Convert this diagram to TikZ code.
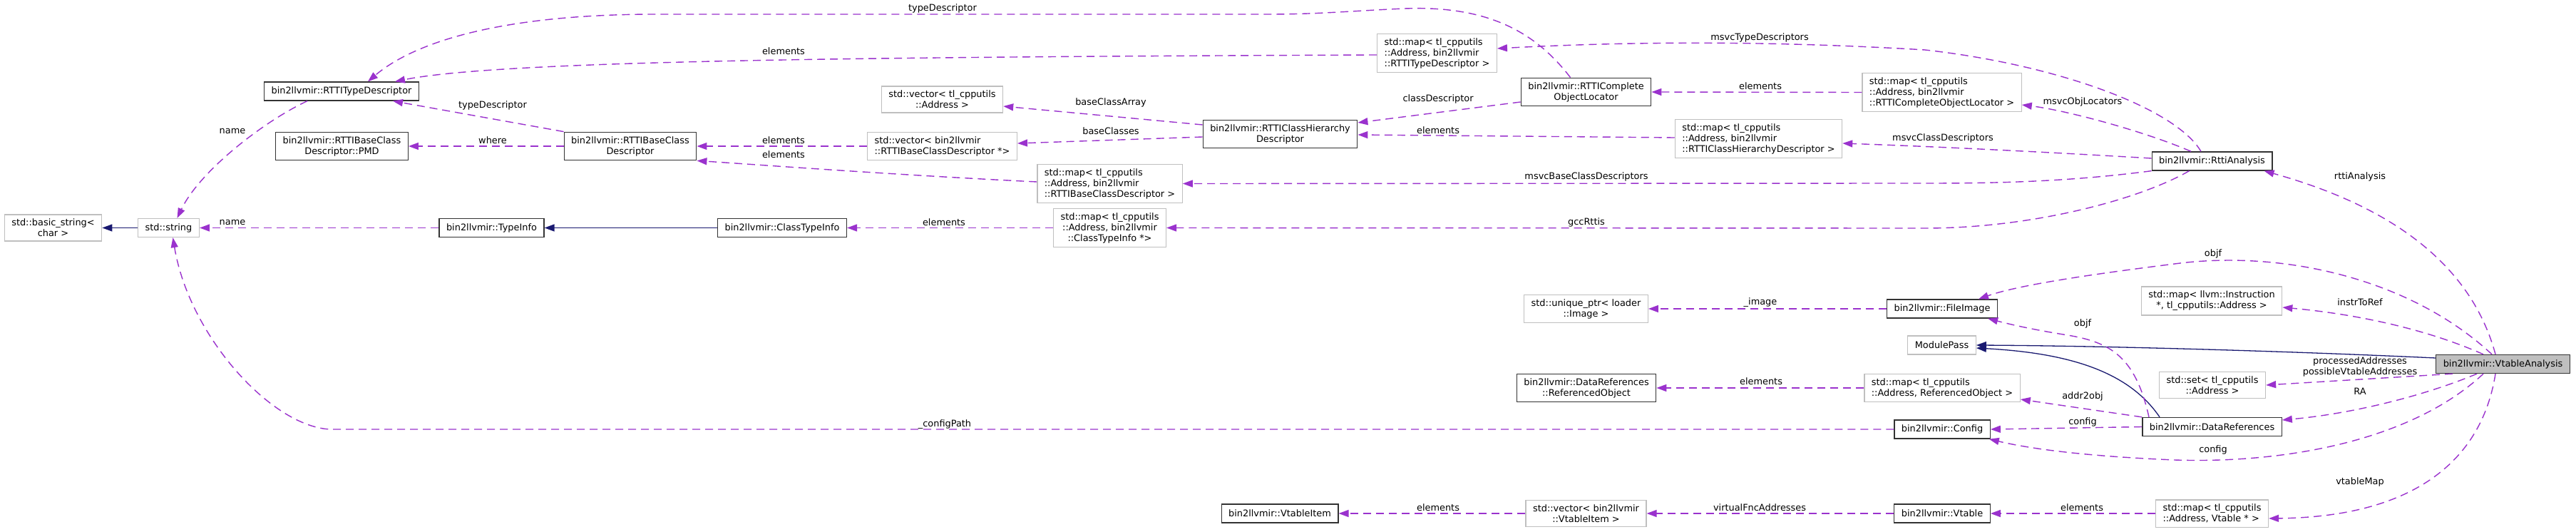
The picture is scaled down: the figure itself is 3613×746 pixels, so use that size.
\documentclass[tikz,border=0pt]{standalone}
\usepackage{fontspec}
\setmainfont{DejaVu Sans}
\usetikzlibrary{arrows.meta}
\usepackage{xcolor}
\definecolor{member}{HTML}{9A32CD}
\definecolor{inherit}{HTML}{191970}
\definecolor{extern}{HTML}{BFBFBF}
\definecolor{focus}{HTML}{BFBFBF}

\begin{document}
\begin{tikzpicture}[x=1pt,y=-1pt,font=\fontsize{12.9}{15}\selectfont,
  cls/.style={draw=black!80,line width=1.3pt,fill=white,align=center,
    inner xsep=10pt,inner ysep=6pt,minimum height=26pt},
  ext/.style={cls,draw=extern},
  cur/.style={cls,fill=focus},
  uses/.style={member,line width=1.4pt,dash pattern=on 11pt off 7pt,
    -{Triangle[length=14pt,width=10pt]}},
  isa/.style={inherit,line width=1.3pt,-{Triangle[length=14pt,width=10pt]}},
  lbl/.style={inner sep=0pt,align=center}]
  \useasboundingbox (0,0) rectangle (3613,746);

  % RTTI classes
  \node[cls] (rttitype) at (479,128) {bin2llvmir::RTTITypeDescriptor};
  \node[cls] (pmd) at (479.5,205) {bin2llvmir::RTTIBaseClass\\Descriptor::PMD};
  \node[ext] (basicstr) at (74.5,319.5) {std::basic\_string<\\char >};
  \node[ext] (stdstr) at (236.5,319.5) {std::string};
  \node[cls] (typeinfo) at (689.5,319.5) {bin2llvmir::TypeInfo};
  \node[cls] (baseclass) at (884,205) {bin2llvmir::RTTIBaseClass\\Descriptor};
  \node[cls] (classtype) at (1097,319.5) {bin2llvmir::ClassTypeInfo};
  \node[ext] (vecaddr) at (1321.5,139.5) {std::vector< tl\_cpputils\\::Address >};
  \node[ext,align=left] (vecbase) at (1321.5,205) {std::vector< bin2llvmir\\::RTTIBaseClassDescriptor *>};
  \node[ext,align=left] (mapbase) at (1556.5,257.5) {std::map< tl\_cpputils\\::Address, bin2llvmir\\::RTTIBaseClassDescriptor >};
  \node[ext] (mapcti) at (1556.5,319.5) {std::map< tl\_cpputils\\::Address, bin2llvmir\\::ClassTypeInfo *>};
  \node[cls] (chd) at (1795.5,188) {bin2llvmir::RTTIClassHierarchy\\Descriptor};
  \node[ext,align=left] (maptype) at (2015.5,74.5) {std::map< tl\_cpputils\\::Address, bin2llvmir\\::RTTITypeDescriptor >};
  \node[cls] (col) at (2224.5,129) {bin2llvmir::RTTIComplete\\ObjectLocator};
  \node[ext,align=left] (mapcol) at (2723.5,129.5) {std::map< tl\_cpputils\\::Address, bin2llvmir\\::RTTICompleteObjectLocator >};
  \node[ext,align=left] (mapchd) at (2466.5,194.5) {std::map< tl\_cpputils\\::Address, bin2llvmir\\::RTTIClassHierarchyDescriptor >};
  \node[cls] (rtti) at (3102.5,226) {bin2llvmir::RttiAnalysis};

  % vtable analysis side
  \node[ext] (uptr) at (2224.5,433) {std::unique\_ptr< loader\\::Image >};
  \node[cls] (fileimg) at (2724,433) {bin2llvmir::FileImage};
  \node[ext] (modpass) at (2723.5,484) {ModulePass};
  \node[cls] (refobj) at (2225,544) {bin2llvmir::DataReferences\\::ReferencedObject};
  \node[ext,align=left] (mapref) at (2724,544) {std::map< tl\_cpputils\\::Address, ReferencedObject >};
  \node[cls] (config) at (2724,602) {bin2llvmir::Config};
  \node[cls] (dataref) at (3102.5,598.5) {bin2llvmir::DataReferences};
  \node[ext] (setaddr) at (3103,540) {std::set< tl\_cpputils\\::Address >};
  \node[ext] (mapinstr) at (3102,422) {std::map< llvm::Instruction\\{}*, tl\_cpputils::Address >};
  \node[cur] (vta) at (3510.5,510.5) {bin2llvmir::VtableAnalysis};
  \node[ext,align=left] (mapvt) at (3102.5,720) {std::map< tl\_cpputils\\::Address, Vtable * >};
  \node[cls] (vtable) at (2724,720) {bin2llvmir::Vtable};
  \node[ext] (vecitem) at (2224.5,720) {std::vector< bin2llvmir\\::VtableItem >};
  \node[cls] (vtitem) at (1795,720) {bin2llvmir::VtableItem};

  % inheritance
  \draw[isa] (stdstr.west) -- (basicstr.east);
  \draw[isa] (classtype.west) -- (typeinfo.east);
  \draw[isa] ([yshift=8.5pt]vta.west) .. controls (3200,492) and (2950,485) .. (modpass.east);
  \draw[isa] ([xshift=-73.5pt]dataref.north) .. controls (2985,520) and (2900,495) .. ([yshift=-4pt]modpass.east);

  % members, RTTI part
  \draw[uses] ([xshift=-22pt]col.north) .. controls (2150,40) and (2080,8) .. (1970,12)
    .. controls (1900,15) and (1850,20) .. (1780,20) -- (920,20)
    .. controls (700,20) and (580,60) .. ([xshift=37pt]rttitype.north);
  \draw[uses] ([yshift=-2.5pt]maptype.west) .. controls (1200,80) and (700,85) .. ([xshift=75pt]rttitype.north);
  \draw[uses] (baseclass.north west) -- ([xshift=72pt]rttitype.south);
  \draw[uses] (baseclass.west) -- (pmd.east);
  \draw[uses] ([xshift=-48pt]rttitype.south) .. controls (370,170) and (280,240) .. ([xshift=12pt]stdstr.north);
  \draw[uses] (typeinfo.west) -- (stdstr.east);
  \draw[uses] (mapcti.west) -- (classtype.east);
  \draw[uses] ([xshift=-32pt]rtti.south) .. controls (3000,280) and (2850,320) .. (2700,320) -- (mapcti.east);
  \draw[uses] (rtti.south west) .. controls (2900,255) and (2800,257) .. (2700,257) -- (mapbase.east);
  \draw[uses] ([yshift=2.5pt]mapbase.west) .. controls (1250,245) and (1050,230) .. (baseclass.south east);
  \draw[uses] (vecbase.west) -- (baseclass.east);
  \draw[uses] ([yshift=-4pt]chd.west) -- ([yshift=4pt]vecbase.east);
  \draw[uses] ([yshift=13pt]chd.west) -- ([yshift=-9.5pt]vecaddr.east);
  \draw[uses] ([yshift=-14pt]col.west) -- ([yshift=16pt]chd.east);
  \draw[uses] ([yshift=1.5pt]mapchd.west) -- ([yshift=-1pt]chd.east);
  \draw[uses] (mapcol.west) -- (col.east);
  \draw[uses] ([xshift=-29.5pt]rtti.north) .. controls (3010,185) and (2900,155) .. ([yshift=-17.5pt]mapcol.east);
  \draw[uses] ([yshift=4pt]rtti.west) .. controls (2850,212) and (2700,205) .. ([yshift=-6.5pt]mapchd.east);
  \draw[uses] ([xshift=-15.5pt]rtti.north) .. controls (3050,150) and (2880,90) .. (2700,70)
    .. controls (2450,55) and (2250,60) .. ([yshift=6.5pt]maptype.east);

  % members, vtable part
  \draw[uses] ([xshift=-10.5pt]vta.north) .. controls (3460,350) and (3320,280) .. ([xshift=-12pt]rtti.south east);
  \draw[uses] ([xshift=-15.5pt]vta.north) .. controls (3380,390) and (3200,350) .. (3050,370)
    .. controls (2930,385) and (2830,400) .. ([xshift=51pt]fileimg.north);
  \draw[uses] ([xshift=-27.5pt]vta.north) .. controls (3400,460) and (3300,440) .. ([yshift=-9pt]mapinstr.east);
  \draw[uses] ([xshift=-70.5pt]vta.south) -- (setaddr.east);
  \draw[uses] ([xshift=-36.5pt]vta.south) .. controls (3400,555) and (3300,580) .. ([yshift=9.5pt]dataref.east);
  \draw[uses] ([xshift=-27.5pt]vta.south) .. controls (3380,620) and (3200,650) .. (3050,645)
    .. controls (2930,640) and (2850,630) .. ([xshift=-2pt]config.south east);
  \draw[uses] ([xshift=-10.5pt]vta.south) .. controls (3480,650) and (3380,725) .. ([yshift=-7pt]mapvt.east);
  \draw[uses] ([xshift=-88.5pt]dataref.north) .. controls (2995,500) and (2960,480) .. (2900,470)
    .. controls (2850,462) and (2820,455) .. ([xshift=-14pt]fileimg.south east);
  \draw[uses] (dataref.north west) -- ([yshift=-16pt]mapref.east);
  \draw[uses] (dataref.west) -- (config.east);
  \draw[uses] (mapref.west) -- (refobj.east);
  \draw[uses] (fileimg.west) -- (uptr.east);
  \draw[uses] (config.west) -- (463,602) .. controls (380,598) and (265,470) .. ([xshift=6pt]stdstr.south);
  \draw[uses] (mapvt.west) -- (vtable.east);
  \draw[uses] (vtable.west) -- (vecitem.east);
  \draw[uses] (vecitem.west) -- (vtitem.east);

  % edge labels
  \node[lbl] (ltypedesc) at (1322,12) {typeDescriptor};
  \node[lbl] (lelemtype) at (1099,72) {elements};
  \node[lbl] (ltypedescb) at (691,148) {typeDescriptor};
  \node[lbl] (lwhere) at (691,197) {where};
  \node[lbl] (lname) at (326,184) {name};
  \node[lbl] (lnameti) at (326,312) {name};
  \node[lbl] (lelemcti) at (1324,312) {elements};
  \node[lbl] (lgcc) at (2225,312) {gccRttis};
  \node[lbl] (lmsvcbase) at (2225,248) {msvcBaseClassDescriptors};
  \node[lbl] (lelemmapbase) at (1099,217) {elements};
  \node[lbl] (lelemvecbase) at (1099,197) {elements};
  \node[lbl] (lbasecls) at (1558,184) {baseClasses};
  \node[lbl] (lbasearr) at (1558,144) {baseClassArray};
  \node[lbl] (lclsdesc) at (2017,139) {classDescriptor};
  \node[lbl] (lelemchd) at (2017,183) {elements};
  \node[lbl] (lelemcol) at (2469,121) {elements};
  \node[lbl] (lobjloc) at (2921,143) {msvcObjLocators};
  \node[lbl] (lmsvccls) at (2725,194) {msvcClassDescriptors};
  \node[lbl] (lmsvctype) at (2468,53) {msvcTypeDescriptors};
  \node[lbl] (lrtti) at (3310,248) {rttiAnalysis};
  \node[lbl] (lobjf) at (3104,356) {objf};
  \node[lbl] (linstr) at (3310,424) {instrToRef};
  \node[lbl] (laddrs) at (3310,514) {processedAddresses\\possibleVtableAddresses};
  \node[lbl] (lra) at (3310,549) {RA};
  \node[lbl] (lconfig) at (3104,631) {config};
  \node[lbl] (lvtmap) at (3310,676) {vtableMap};
  \node[lbl] (lobjfdr) at (2921,454) {objf};
  \node[lbl] (laddr2obj) at (2921,556) {addr2obj};
  \node[lbl] (lconfigdr) at (2921,592) {config};
  \node[lbl] (lelemref) at (2470,535) {elements};
  \node[lbl] (limage) at (2469,424) {\_image};
  \node[lbl] (lcfgpath) at (1325,595) {\_configPath};
  \node[lbl] (lelemvt) at (2920,712) {elements};
  \node[lbl] (lvfnc) at (2468,712) {virtualFncAddresses};
  \node[lbl] (lelemitem) at (2017,712) {elements};
\end{tikzpicture}
\end{document}
